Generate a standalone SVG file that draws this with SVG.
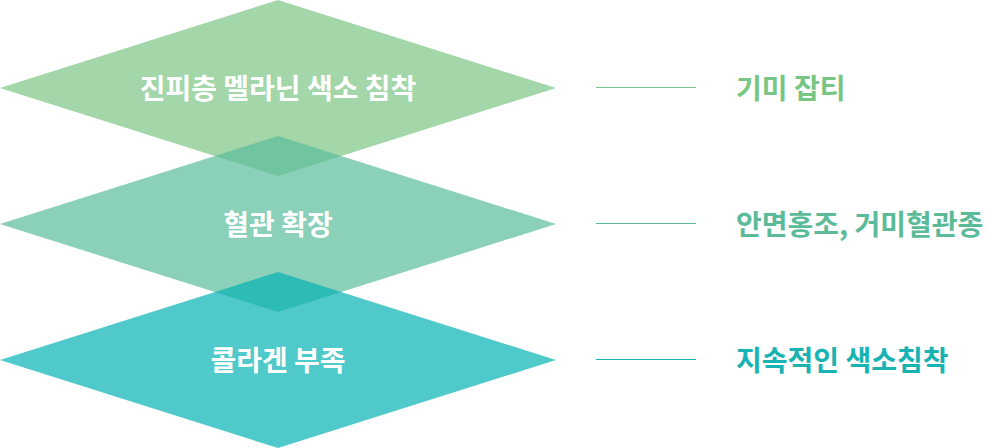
<svg xmlns="http://www.w3.org/2000/svg" width="988" height="448" viewBox="0 0 988 448">
<style>
.lbl{font-family:"Noto Sans CJK KR","Noto Sans",sans-serif;font-weight:700;font-size:28px;fill:#ffffff;text-anchor:middle;dominant-baseline:central}
.side{font-family:"Noto Sans CJK KR","Noto Sans",sans-serif;font-weight:700;font-size:28px;dominant-baseline:central}
</style>
<g id="node1">
<polygon points="0,88 278,0 556,88 278,176" fill="#a3d6a8"/>
</g>
<g id="node2">
<polygon points="0,224 278,136 556,224 278,312" fill="#5abc9b" fill-opacity="0.7"/>
</g>
<g id="node3">
<polygon points="0,360 278,272 556,360 278,448" fill="#06b2b4" fill-opacity="0.7"/>
</g>
<g id="labels">
<text class="lbl" x="278" y="87">진피층 멜라닌 색소 침착</text>
<text class="lbl" x="278" y="223">혈관 확장</text>
<text class="lbl" x="278" y="359">콜라겐 부족</text>
</g>
<g id="connectors">
<line x1="596" y1="87.5" x2="696" y2="87.5" stroke="#7cc886" stroke-width="1"/>
<line x1="596" y1="223.5" x2="696" y2="223.5" stroke="#5ab99b" stroke-width="1"/>
<line x1="596" y1="359.5" x2="696" y2="359.5" stroke="#16b2b2" stroke-width="1"/>
</g>
<g id="side1"><text class="side" x="736" y="87" fill="#77c683">기미 잡티</text></g>
<g id="side2"><text class="side" x="736" y="223" fill="#5bbb98">안면홍조, 거미혈관종</text></g>
<g id="side3"><text class="side" x="736" y="359" fill="#18b3b2">지속적인 색소침착</text></g>
</svg>
